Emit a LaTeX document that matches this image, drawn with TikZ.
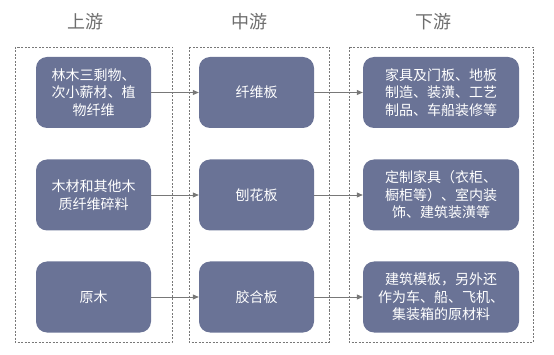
\documentclass[tikz,border=0pt]{standalone}
\usepackage{fontspec}
\newfontfamily\cjk{Noto Sans CJK SC}
\usetikzlibrary{arrows.meta}
\definecolor{boxfill}{RGB}{106,115,150}
\definecolor{titlegray}{RGB}{110,110,110}
\definecolor{linegray}{RGB}{120,120,120}
\tikzset{
  stagebox/.style={draw=linegray, line width=0.8pt, dash pattern=on 2pt off 1.5pt},
  item/.style={fill=boxfill, draw=none, rounded corners=11pt, inner sep=0pt,
    text=white, align=center, font=\cjk\fontsize{14}{17.5}\selectfont},
  narrow/.style={item, minimum width=115pt, minimum height=71pt},
  wide/.style={item, minimum width=156pt, minimum height=71pt},
  heading/.style={text=titlegray, font=\cjk\fontsize{18}{20}\selectfont, inner sep=0pt},
  arr/.style={draw=linegray, line width=0.8pt, -{Triangle[length=6pt,width=5pt]}}
}
\begin{document}
\begin{tikzpicture}[x=1pt,y=-1pt]
\useasboundingbox (0,0) rectangle (554,355);
% stage frames
\draw[stagebox] (15,47) rectangle (172,342);
\draw[stagebox] (189,47) rectangle (329,342);
\draw[stagebox] (349,47) rectangle (533,342);
% headings
\node[heading] (h1) at (85,22) {上游};
\node[heading] (h2) at (249,22) {中游};
\node[heading] (h3) at (433,22) {下游};
% upstream
\node[narrow] (u1) at (93.5,92.5) {林木三剩物、\\次小薪材、植\\物纤维};
\node[narrow] (u2) at (93.5,195) {木材和其他木\\质纤维碎料};
\node[narrow] (u3) at (93.5,297) {原木};
% midstream
\node[narrow] (m1) at (256.5,92.5) {纤维板};
\node[narrow] (m2) at (256.5,195) {刨花板};
\node[narrow] (m3) at (256.5,297) {胶合板};
% downstream
\node[wide] (d1) at (441,92.5) {家具及门板、地板\\制造、装潢、工艺\\制品、车船装修等};
\node[wide] (d2) at (441,195) {定制家具（衣柜、\\橱柜等）、室内装\\饰、建筑装潢等};
\node[wide] (d3) at (441,297) {建筑模板，另外还\\作为车、船、飞机、\\集装箱的原材料};
% connectors
\draw[arr] (u1) -- (m1);
\draw[arr] (u2) -- (m2);
\draw[arr] (u3) -- (m3);
\draw[arr] (m1) -- (d1);
\draw[arr] (m2) -- (d2);
\draw[arr] (m3) -- (d3);
\end{tikzpicture}
\end{document}
